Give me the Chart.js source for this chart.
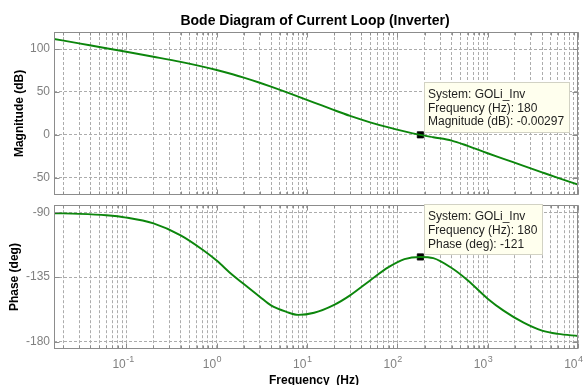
<!DOCTYPE html>
<html>
<head>
<meta charset="utf-8">
<title>Bode Diagram of Current Loop (Inverter)</title>
<script src="https://cdn.jsdelivr.net/npm/chart.js@4.4.1/dist/chart.umd.min.js"></script>
<style>
  html, body { margin: 0; padding: 0; background: #fff; }
  #wrap { position: relative; width: 587px; height: 385px; overflow: hidden; }
  canvas { position: absolute; left: 0; }
  #magCanvas { top: 0; }
  #phaseCanvas { top: 200px; }
</style>
</head>
<body>
<div id="wrap">
  <canvas id="magCanvas" width="587" height="200"></canvas>
  <canvas id="phaseCanvas" width="587" height="185"></canvas>
</div>
<script>
// open loop response of GOLi_Inv
const freqHz = [0.0158, 0.03, 0.06, 0.1, 0.2, 0.4, 0.7, 1, 1.5, 2, 3, 4, 6, 8, 12,
                20, 30, 50, 80, 120, 180, 250, 400, 600, 1000, 1500, 2500, 4000, 6000, 10000];
const magDb = [111.9, 106.7, 101.1, 96.9, 91.1, 85.1, 79.6, 75.7, 70.7, 66.8, 60.8, 56.3, 49.6, 44.7, 37.7,
               28.8, 22.1, 14.6, 8.6, 4.05, -0.00297, -2.8, -6.7, -12.9, -21.5, -28.0, -36.3, -43.8, -50.2, -58.0];
const phaseDeg = [-90.6, -91.0, -92.0, -93.6, -97.7, -106.0, -116.0, -123.5, -133.6, -139.8, -148.6, -154.7, -159.3, -161.3, -159.8,
                  -154.3, -147.7, -137.3, -128.1, -122.5, -121, -121.8, -128.7, -137.2, -150.0, -158.3, -166.7, -172.2, -174.5, -176.0];

// data tip at crossover
const tipFreq = 180;
const tipMag = -0.00297;
const tipPhase = -121;

// axis ticks
const magTicks = [-50, 0, 50, 100];
const phaseTicks = [-180, -135, -90];
const decades = [-1, 0, 1, 2, 3, 4];

const X_MIN = Math.pow(10, -1.8);
const X_MAX = 1e4;

const lineColor = '#0c860c';
const frameColor = '#8c8c8c';
const gridColor = '#acacac';
const tickTextColor = '#808080';
const FONT = '"Liberation Sans", Arial, Helvetica, sans-serif';

// grid positions 1..9 x 10^n inside the frequency range
const xGrid = [];
for (let n = -2; n <= 4; n++) {
    for (let k = 1; k <= 9; k++) {
        const v = k * Math.pow(10, n);
        if (v >= X_MIN * 0.999 && v <= X_MAX * 1.001) xGrid.push(v);
    }
}

function isDecade(v) {
    const l = Math.log10(v);
    return Math.abs(l - Math.round(l)) < 1e-6;
}

function xScale() {
    return {
        type: 'logarithmic',
        min: X_MIN,
        max: X_MAX,
        afterBuildTicks: s => { s.ticks = xGrid.map(v => ({ value: v })); },
        ticks: { display: false },
        grid: { color: gridColor, lineWidth: 1, drawTicks: false },
        border: { display: false, dash: [3, 2] }
    };
}

function yScale(min, max, ticks) {
    return {
        min: min,
        max: max,
        afterBuildTicks: s => { s.ticks = ticks.map(v => ({ value: v })); },
        afterFit: s => { s.width = 54; s.paddingTop = 0; s.paddingBottom = 0; },
        ticks: {
            font: { family: FONT, size: 12 },
            color: tickTextColor,
            padding: 4,
            callback: v => String(v)
        },
        grid: { color: gridColor, lineWidth: 1, drawTicks: false },
        border: { display: false, dash: [3, 2] }
    };
}

// box around the axes with inward tick marks
const framePlugin = {
    id: 'frame',
    afterDatasetsDraw(chart) {
        const { ctx, chartArea: a, scales } = chart;
        const L = Math.round(a.left) + 0.5, R = Math.round(a.right) - 0.5;
        const T = Math.round(a.top) + 0.5, B = Math.round(a.bottom) - 0.5;
        ctx.save();
        ctx.strokeStyle = frameColor;
        ctx.lineWidth = 1;
        ctx.beginPath();
        scales.x.ticks.forEach(t => {
            const x = Math.round(scales.x.getPixelForValue(t.value)) + 0.5;
            const len = isDecade(t.value) ? 5 : 3;
            ctx.moveTo(x, B); ctx.lineTo(x, B - len);
            ctx.moveTo(x, T); ctx.lineTo(x, T + len);
        });
        scales.y.ticks.forEach(t => {
            const y = Math.round(scales.y.getPixelForValue(t.value)) + 0.5;
            ctx.moveTo(L, y); ctx.lineTo(L + 5, y);
            ctx.moveTo(R, y); ctx.lineTo(R - 5, y);
        });
        ctx.stroke();
        ctx.strokeRect(L, T, R - L, B - T);
        ctx.restore();
    }
};

// yellow data tip box next to the marker
function drawTip(chart, lines) {
    const { ctx } = chart;
    const p = chart.getDatasetMeta(1).data[0];
    const px = p.x, py = p.y;
    ctx.save();
    ctx.font = '12px ' + FONT;
    const w = Math.max(...lines.map(s => ctx.measureText(s).width)) + 9;
    const left = Math.round(px + 4) + 0.5;
    const top = Math.round(py - 53) + 0.5;
    ctx.fillStyle = '#ffffee';
    ctx.strokeStyle = '#d2d2c4';
    ctx.lineWidth = 1;
    ctx.fillRect(left, top, Math.round(w), 50);
    ctx.strokeRect(left, top, Math.round(w), 50);
    ctx.fillStyle = '#1e1e1e';
    ctx.textAlign = 'left';
    ctx.textBaseline = 'alphabetic';
    lines.forEach((s, i) => ctx.fillText(s, left + 3.5, py - 37 + i * 13.8));
    ctx.restore();
}

function verticalTitle(ctx, text, x, y) {
    ctx.save();
    ctx.translate(x, y);
    ctx.rotate(-Math.PI / 2);
    ctx.font = 'bold 12px ' + FONT;
    ctx.fillStyle = '#000';
    ctx.textAlign = 'center';
    ctx.textBaseline = 'alphabetic';
    ctx.fillText(text, 0, 0);
    ctx.restore();
}

const magTextPlugin = {
    id: 'magText',
    afterDraw(chart) {
        const { ctx, chartArea: a } = chart;
        ctx.save();
        ctx.font = 'bold 14px ' + FONT;
        ctx.fillStyle = '#000';
        ctx.textAlign = 'center';
        ctx.fillText('Bode Diagram of Current Loop (Inverter)', (a.left + a.right) / 2 - 1, 24.5);
        ctx.restore();
        verticalTitle(ctx, 'Magnitude (dB)', 22.5, (a.top + a.bottom) / 2);
        drawTip(chart, ['System: GOLi_Inv', 'Frequency (Hz): ' + tipFreq, 'Magnitude (dB): ' + tipMag]);
    }
};

const phaseTextPlugin = {
    id: 'phaseText',
    afterDraw(chart) {
        const { ctx, chartArea: a, scales } = chart;
        verticalTitle(ctx, 'Phase (deg)', 18, (a.top + a.bottom) / 2);
        // decade labels 10^n
        ctx.save();
        ctx.fillStyle = tickTextColor;
        ctx.textBaseline = 'alphabetic';
        decades.forEach(n => {
            const x = scales.x.getPixelForValue(Math.pow(10, n));
            ctx.font = '12px ' + FONT;
            ctx.textAlign = 'right';
            ctx.fillText('10', x - 0.5, 168.3);
            ctx.font = '9px ' + FONT;
            ctx.textAlign = 'left';
            ctx.fillText(String(n), x, 161.8);
        });
        ctx.font = 'bold 12px ' + FONT;
        ctx.fillStyle = '#000';
        ctx.textAlign = 'center';
        ctx.fillText('Frequency  (Hz)', (a.left + a.right) / 2 - 2, 183.6);
        ctx.restore();
        drawTip(chart, ['System: GOLi_Inv', 'Frequency (Hz): ' + tipFreq, 'Phase (deg): ' + tipPhase]);
    }
};

function makeChart(id, values, tipValue, yOpts, padding, textPlugin) {
    return new Chart(document.getElementById(id), {
        type: 'line',
        data: {
            datasets: [
                {
                    data: freqHz.map((f, i) => ({ x: f, y: values[i] })),
                    borderColor: lineColor,
                    borderWidth: 1.9,
                    pointRadius: 0,
                    cubicInterpolationMode: 'monotone',
                    fill: false
                },
                {
                    data: [{ x: tipFreq, y: tipValue }],
                    showLine: false,
                    pointStyle: 'rect',
                    pointRadius: 4.4,
                    pointBorderWidth: 0.8,
                    pointBackgroundColor: '#000',
                    pointBorderColor: '#000'
                }
            ]
        },
        options: {
            responsive: false,
            animation: false,
            devicePixelRatio: 1,
            layout: { padding: padding },
            plugins: { legend: { display: false }, tooltip: { enabled: false }, title: { display: false } },
            scales: { x: xScale(), y: yOpts }
        },
        plugins: [framePlugin, textPlugin]
    });
}

makeChart('magCanvas', magDb, tipMag, yScale(-70, 120, magTicks),
          { left: 0, top: 32, right: 9, bottom: 5 }, magTextPlugin);
makeChart('phaseCanvas', phaseDeg, tipPhase, yScale(-185, -85, phaseTicks),
          { left: 0, top: 5, right: 9, bottom: 36 }, phaseTextPlugin);
</script>
</body>
</html>
